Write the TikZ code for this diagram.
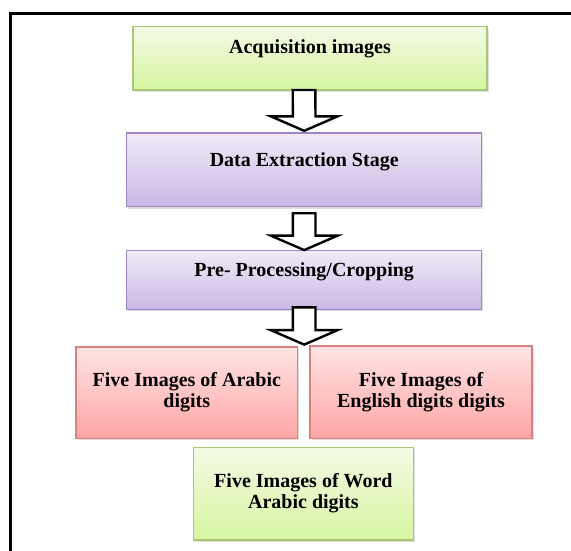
\documentclass[tikz,border=0pt]{standalone}
\usepackage{fontspec}
\setmainfont{Liberation Serif}
\usetikzlibrary{calc,shadows}
\definecolor{greenT}{HTML}{F3FAE6}
\definecolor{greenB}{HTML}{D6F5A0}
\definecolor{greenD}{HTML}{A8C878}
\definecolor{purpT}{HTML}{F0EAF7}
\definecolor{purpB}{HTML}{CAB8E4}
\definecolor{purpD}{HTML}{9E86C6}
\definecolor{redT}{HTML}{FFE4E4}
\definecolor{redB}{HTML}{FFA5A5}
\definecolor{redD}{HTML}{D98080}
\newcommand{\blockarrow}[2]{%
  \draw[blockarr] ($(#1)+(-11.3,0)$) -- ($(#2)+(-11.3,-14.5)$) -- ($(#2)+(-33.4,-14.5)$) -- (#2)
    -- ($(#2)+(33.4,-14.5)$) -- ($(#2)+(11.3,-14.5)$) -- ($(#1)+(11.3,0)$) -- cycle;}
\begin{document}
\begin{tikzpicture}[x=1pt,y=-1pt,
  box/.style={rectangle,inner sep=0pt,line width=1.2pt,
    drop shadow={shadow xshift=1.5pt,shadow yshift=-2pt,opacity=0.25}},
  greenbox/.style={box,draw=greenD,top color=greenT,bottom color=greenB},
  purpbox/.style={box,draw=purpD,top color=purpT,bottom color=purpB},
  redbox/.style={box,draw=redD,top color=redT,bottom color=redB},
  lbl/.style={font=\fontsize{20}{21.5}\selectfont\bfseries,align=center,inner sep=0pt},
  blockarr/.style={draw=black,fill=white,line width=2.4pt,line join=miter},
  frame/.style={line width=2.8pt,draw=black}]
\useasboundingbox (0,0) rectangle (571,551);
\clip (0,0) rectangle (571,551);
\fill[white] (0,0) rectangle (571,551);
\draw[frame] (10.5,600) |- (600,13.3);

\node[greenbox,minimum width=354pt,minimum height=63.3pt] (acq) at (310,58.3) {};
\node[lbl] (acqt) at (310,49) {Acquisition images};

\node[purpbox,minimum width=355pt,minimum height=73.7pt] (data) at (304.2,169.8) {};
\node[lbl] (datat) at (304.2,161.7) {Data Extraction Stage};

\node[purpbox,minimum width=355pt,minimum height=58.6pt] (pre) at (304.2,280) {};
\node[lbl] (pret) at (304.2,271.7) {Pre- Processing/Cropping};

\node[redbox,minimum width=221.7pt,minimum height=91.3pt] (arab) at (186.8,392.6)
  {\fontsize{20}{21.5}\selectfont\bfseries\begin{tabular}{@{}c@{}}Five Images of Arabic\\[-0.5pt] digits\end{tabular}};
\node[redbox,minimum width=222pt,minimum height=92.3pt] (eng) at (421,392.2)
  {\fontsize{20}{21.5}\selectfont\bfseries\begin{tabular}{@{}c@{}}Five Images of\\[-0.5pt] English digits digits\end{tabular}};
\node[greenbox,minimum width=219.8pt,minimum height=92.7pt] (word) at (303.4,493.7)
  {\fontsize{20}{21.5}\selectfont\bfseries\begin{tabular}{@{}c@{}}Five Images of Word\\[-0.5pt] Arabic digits\end{tabular}};

\coordinate (a1s) at (304,90);
\coordinate (a1t) at ($(data.north)+(0,-1.5)$);
\coordinate (a2s) at ($(data.south)+(0,6)$);
\coordinate (a2t) at ($(pre.north)+(0,0)$);
\coordinate (a3s) at ($(pre.south)+(0,-2.5)$);
\coordinate (a3t) at ($(pre.south)+(0,34.7)$);
\blockarrow{a1s}{a1t}
\blockarrow{a2s}{a2t}
\blockarrow{a3s}{a3t}
\end{tikzpicture}
\end{document}
